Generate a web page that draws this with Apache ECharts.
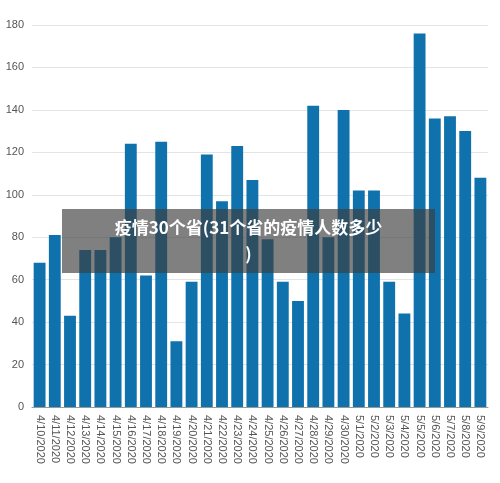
<!DOCTYPE html><html><head><meta charset="utf-8"><script src="https://cdn.jsdelivr.net/npm/echarts@6/dist/echarts.min.js"></script>
<style>body{margin:0}#c{width:500px;height:483px}#o{position:absolute;left:62px;top:209px;width:373px;height:64px;background:rgba(60,60,60,0.65);color:#fff;font:bold 17px "Noto Sans CJK SC";text-align:center;line-height:26px;padding-top:5px;box-sizing:border-box}</style></head><body>
<div id="c"></div><div id="o">疫情30个省(31个省的疫情人数多少<br>)</div>
<script>
const categories=["4/10/2020","4/11/2020","4/12/2020","4/13/2020","4/14/2020","4/15/2020","4/16/2020","4/17/2020","4/18/2020","4/19/2020","4/20/2020","4/21/2020","4/22/2020","4/23/2020","4/24/2020","4/25/2020","4/26/2020","4/27/2020","4/28/2020","4/29/2020","4/30/2020","5/1/2020","5/2/2020","5/3/2020","5/4/2020","5/5/2020","5/6/2020","5/7/2020","5/8/2020","5/9/2020"];
const values=[68,81,43,74,74,80,124,62,125,31,59,119,97,123,107,79,59,50,142,80,140,102,102,59,44,176,136,137,130,108];
echarts.init(document.getElementById('c')).setOption({animation:false,
grid:{left:32,right:12,top:25,bottom:76},
xAxis:{type:'category',data:categories,axisTick:{show:false},axisLine:{lineStyle:{color:'#999'}},axisLabel:{rotate:-90,interval:0,color:'#555',fontSize:11}},
yAxis:{type:'value',min:0,max:180,interval:20,axisLabel:{color:'#555',fontSize:11},splitLine:{lineStyle:{color:'#e4e4e4'}}},
series:[{type:'bar',data:values,barCategoryGap:'22%',itemStyle:{color:'#0f72ad'}}]});
</script></body></html>
